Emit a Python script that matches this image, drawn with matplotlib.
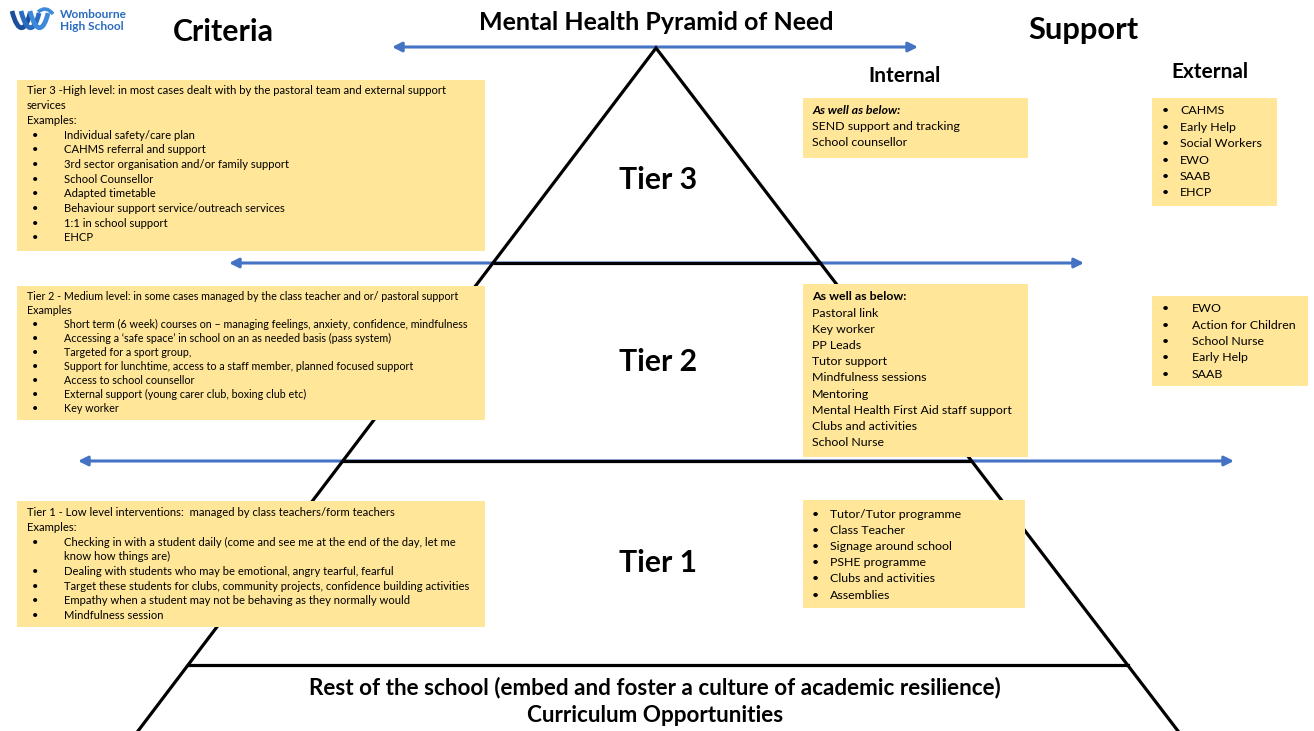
import matplotlib.pyplot as plt
from matplotlib.patches import Rectangle, FancyArrowPatch, PathPatch
from matplotlib.path import Path

plt.rcParams['font.family'] = ['Lato', 'DejaVu Sans']

W, H = 1314, 731
YELLOW = '#FFE699'
BLUE = '#4472C4'

title = "Mental Health Pyramid of Need"
tiers = ["Tier 3", "Tier 2", "Tier 1"]
base_lines = ["Rest of the school (embed and foster a culture of academic resilience)",
              "Curriculum Opportunities"]

# criteria boxes: header lines, bullet lines
crit3_head = ["Tier 3 -High level: in most cases dealt with by the pastoral team and external support",
              "services", "Examples:"]
crit3_items = ["Individual safety/care plan", "CAHMS referral and support",
               "3rd sector organisation and/or family support", "School Counsellor",
               "Adapted timetable", "Behaviour support service/outreach services",
               "1:1 in school support", "EHCP"]
crit2_head = ["Tier 2 - Medium level: in some cases managed by the class teacher and or/ pastoral support",
              "Examples"]
crit2_items = ["Short term (6 week) courses on \u2013 managing feelings, anxiety, confidence, mindfulness",
               "Accessing a \u2018safe space\u2019 in school on an as needed basis (pass system)",
               "Targeted for a sport group,",
               "Support for lunchtime, access to a staff member, planned focused support",
               "Access to school counsellor",
               "External support (young carer club, boxing club etc)",
               "Key worker"]
crit1_head = ["Tier 1 - Low level interventions:  managed by class teachers/form teachers",
              "Examples:"]
crit1_items = ["Checking in with a student daily (come and see me at the end of the day, let me\nknow how things are)",
               "Dealing with students who may be emotional, angry tearful, fearful",
               "Target these students for clubs, community projects, confidence building activities",
               "Empathy when a student may not be behaving as they normally would",
               "Mindfulness session"]

int3 = ["SEND support and tracking", "School counsellor"]
int2 = ["Pastoral link", "Key worker", "PP Leads", "Tutor support", "Mindfulness sessions",
        "Mentoring", "Mental Health First Aid staff support", "Clubs and activities", "School Nurse"]
int1 = ["Tutor/Tutor programme", "Class Teacher", "Signage around school", "PSHE programme",
        "Clubs and activities", "Assemblies"]
ext3 = ["CAHMS", "Early Help", "Social Workers", "EWO", "SAAB", "EHCP"]
ext2 = ["EWO", "Action for Children", "School Nurse", "Early Help", "SAAB"]

fig = plt.figure(figsize=(W / 100, H / 100), dpi=100)
ax = fig.add_axes([0, 0, 1, 1])
ax.set_xlim(0, W)
ax.set_ylim(H, 0)
ax.axis('off')

# pyramid
apex = (656, 48)
ax.plot([138, apex[0], 1178], [731, apex[1], 731], color='black', lw=2.3, zorder=2,
        solid_joinstyle='miter')
for y, x0, x1 in [(263, 495, 820), (461, 343, 970), (665, 188, 1128)]:
    ax.plot([x0, x1], [y, y], color='black', lw=2.3, zorder=2)

# blue double arrows
for y, x0, x1 in [(47, 392, 918), (263, 229, 1084), (461, 78, 1234)]:
    ax.add_patch(FancyArrowPatch((x0, y), (x1, y), arrowstyle='<|-|>', color=BLUE,
                                 lw=2.2, mutation_scale=14, shrinkA=0, shrinkB=0, zorder=1))

# headings
ax.text(656, 22, title, ha='center', va='center', fontsize=18, fontweight='bold')
ax.text(223, 32, "Criteria", ha='center', va='center', fontsize=21.8, fontweight='bold')
ax.text(1083, 30, "Support", ha='center', va='center', fontsize=22.2, fontweight='bold')
ax.text(905, 76, "Internal", ha='center', va='center', fontsize=15, fontweight='bold')
ax.text(1210, 72, "External", ha='center', va='center', fontsize=15, fontweight='bold')
for name, y in zip(tiers, [180, 362, 563]):
    ax.text(658, y, name, ha='center', va='center', fontsize=21.7, fontweight='bold')
ax.text(655, 688, base_lines[0], ha='center', va='center', fontsize=16.2, fontweight='bold')
ax.text(655, 716, base_lines[1], ha='center', va='center', fontsize=16.2, fontweight='bold')


def box(x0, y0, x1, y1):
    ax.add_patch(Rectangle((x0, y0), x1 - x0, y1 - y0, facecolor=YELLOW,
                           edgecolor='none', zorder=3))


def criteria(x0, y0, x1, y1, first, step, head, items, fs=8.1):
    box(x0, y0, x1, y1)
    y = first
    for line in head:
        ax.text(x0 + 10, y, line, ha='left', va='center', fontsize=fs, zorder=4)
        y += step
    for item in items:
        ax.text(x0 + 15, y, "\u2022", ha='left', va='center', fontsize=fs, zorder=4)
        for part in item.split("\n"):
            ax.text(x0 + 47, y, part, ha='left', va='center', fontsize=fs, zorder=4)
            y += step


def listing(x0, y0, x1, y1, first, step, items, head=None, head_style='normal',
            bullet_x=None, text_x=None, fs=8.9):
    box(x0, y0, x1, y1)
    y = first
    if head:
        ax.text(x0 + 9, y, head, ha='left', va='center', fontsize=fs,
                fontweight='bold', fontstyle=head_style, zorder=4)
        y += step
    for item in items:
        if bullet_x is not None:
            ax.text(bullet_x, y, "\u2022", ha='left', va='center', fontsize=fs, zorder=4)
            ax.text(text_x, y, item, ha='left', va='center', fontsize=fs, zorder=4)
        else:
            ax.text(x0 + 9, y, item, ha='left', va='center', fontsize=fs, zorder=4)
        y += step


criteria(17, 80, 485, 251, 91, 14.7, crit3_head, crit3_items)
criteria(17, 286, 485, 420, 297, 13.9, crit2_head, crit2_items, fs=7.75)
criteria(17, 501, 485, 627, 513, 14.6, crit1_head, crit1_items)

listing(803, 98, 1028, 158, 111, 16, int3, head="As well as below:", head_style='italic')
listing(803, 284, 1028, 457, 297, 16.2, int2, head="As well as below:")
listing(803, 500, 1025, 608, 514, 16.2, int1, bullet_x=812, text_x=830)
listing(1152, 98, 1277, 206, 111, 16.4, ext3, bullet_x=1162, text_x=1180)
listing(1152, 296, 1308, 386, 309, 16.25, ext2, bullet_x=1162, text_x=1192)

# logo
for dx, c in [(0, '#1B4F9C'), (9, '#2A6CC0'), (18, '#3D8AD8')]:
    verts = [(12 + dx, 11), (18 + dx, 35), (26 + dx, 31), (30 + dx, 13)]
    ax.add_patch(PathPatch(Path(verts, [Path.MOVETO, Path.CURVE4, Path.CURVE4, Path.CURVE4]),
                           facecolor='none', edgecolor=c, lw=3.4, zorder=4))
ax.add_patch(PathPatch(Path([(38, 12), (46, 5), (53, 14)], [Path.MOVETO, Path.CURVE3, Path.CURVE3]),
                       facecolor='none', edgecolor='#3D8AD8', lw=2.6, zorder=4))
ax.text(60, 15, "Wombourne", ha='left', va='center', fontsize=8.6, color='#2A6CC0', fontweight='bold')
ax.text(60, 26, "High School", ha='left', va='center', fontsize=8.6, color='#2A6CC0', fontweight='bold')

fig.savefig('out.png', dpi=100)
